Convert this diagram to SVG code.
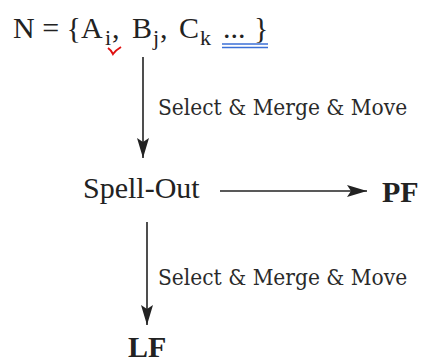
<svg xmlns="http://www.w3.org/2000/svg" width="421" height="363" viewBox="0 0 421 363">
<style>
.t{font-family:"Liberation Serif","Times New Roman",serif;fill:#222;font-size:30px}
.s{font-size:22px}
.b{font-weight:bold}
.lbl{font-family:"DejaVu Serif Condensed","DejaVu Serif",serif;font-stretch:condensed;fill:#2a2a2a;font-size:22.5px}
.ln{stroke:#222;stroke-width:1.6;fill:none}
</style>
<defs>
<marker id="ah" viewBox="0 0 20 12" refX="20" refY="6" markerWidth="20" markerHeight="12" markerUnits="userSpaceOnUse" orient="auto">
<path d="M0,0 L20,6 L0,12 L4,6 Z" fill="#222"/>
</marker>
</defs>
<g id="node-N">
<text class="t" y="38"><tspan x="13">N = {A</tspan><tspan class="s" x="105" dy="7">i</tspan><tspan x="112" dy="-7">,</tspan><tspan x="132">B</tspan><tspan class="s" x="153" dy="7">j</tspan><tspan x="160" dy="-7">,</tspan><tspan x="179">C</tspan><tspan class="s" x="200" dy="7">k</tspan><tspan x="223" dy="-7">...</tspan><tspan x="254">}</tspan></text>
<path d="M108,48 Q111,50 113,54 Q116,50 121,47" stroke="#e01010" stroke-width="2" fill="none"/>
<line x1="222" y1="44" x2="268" y2="44" stroke="#3b6fd6" stroke-width="1.3"/>
<line x1="222" y1="47.5" x2="268" y2="47.5" stroke="#3b6fd6" stroke-width="1.3"/>
</g>
<g id="node-SpellOut">
<text class="t" x="83" y="198">Spell-Out</text>
</g>
<g id="node-PF">
<text class="t b" x="382" y="202">PF</text>
</g>
<g id="node-LF">
<text class="t b" x="128" y="357">LF</text>
</g>
<g id="connectors">
<line class="ln" x1="143" y1="57" x2="143" y2="158" marker-end="url(#ah)"/>
<line class="ln" x1="220" y1="191" x2="367" y2="191" marker-end="url(#ah)"/>
<line class="ln" x1="147" y1="222" x2="147" y2="325" marker-end="url(#ah)"/>
<text class="lbl" x="158" y="115">Select &amp; Merge &amp; Move</text>
<text class="lbl" x="158" y="285">Select &amp; Merge &amp; Move</text>
</g>
</svg>
